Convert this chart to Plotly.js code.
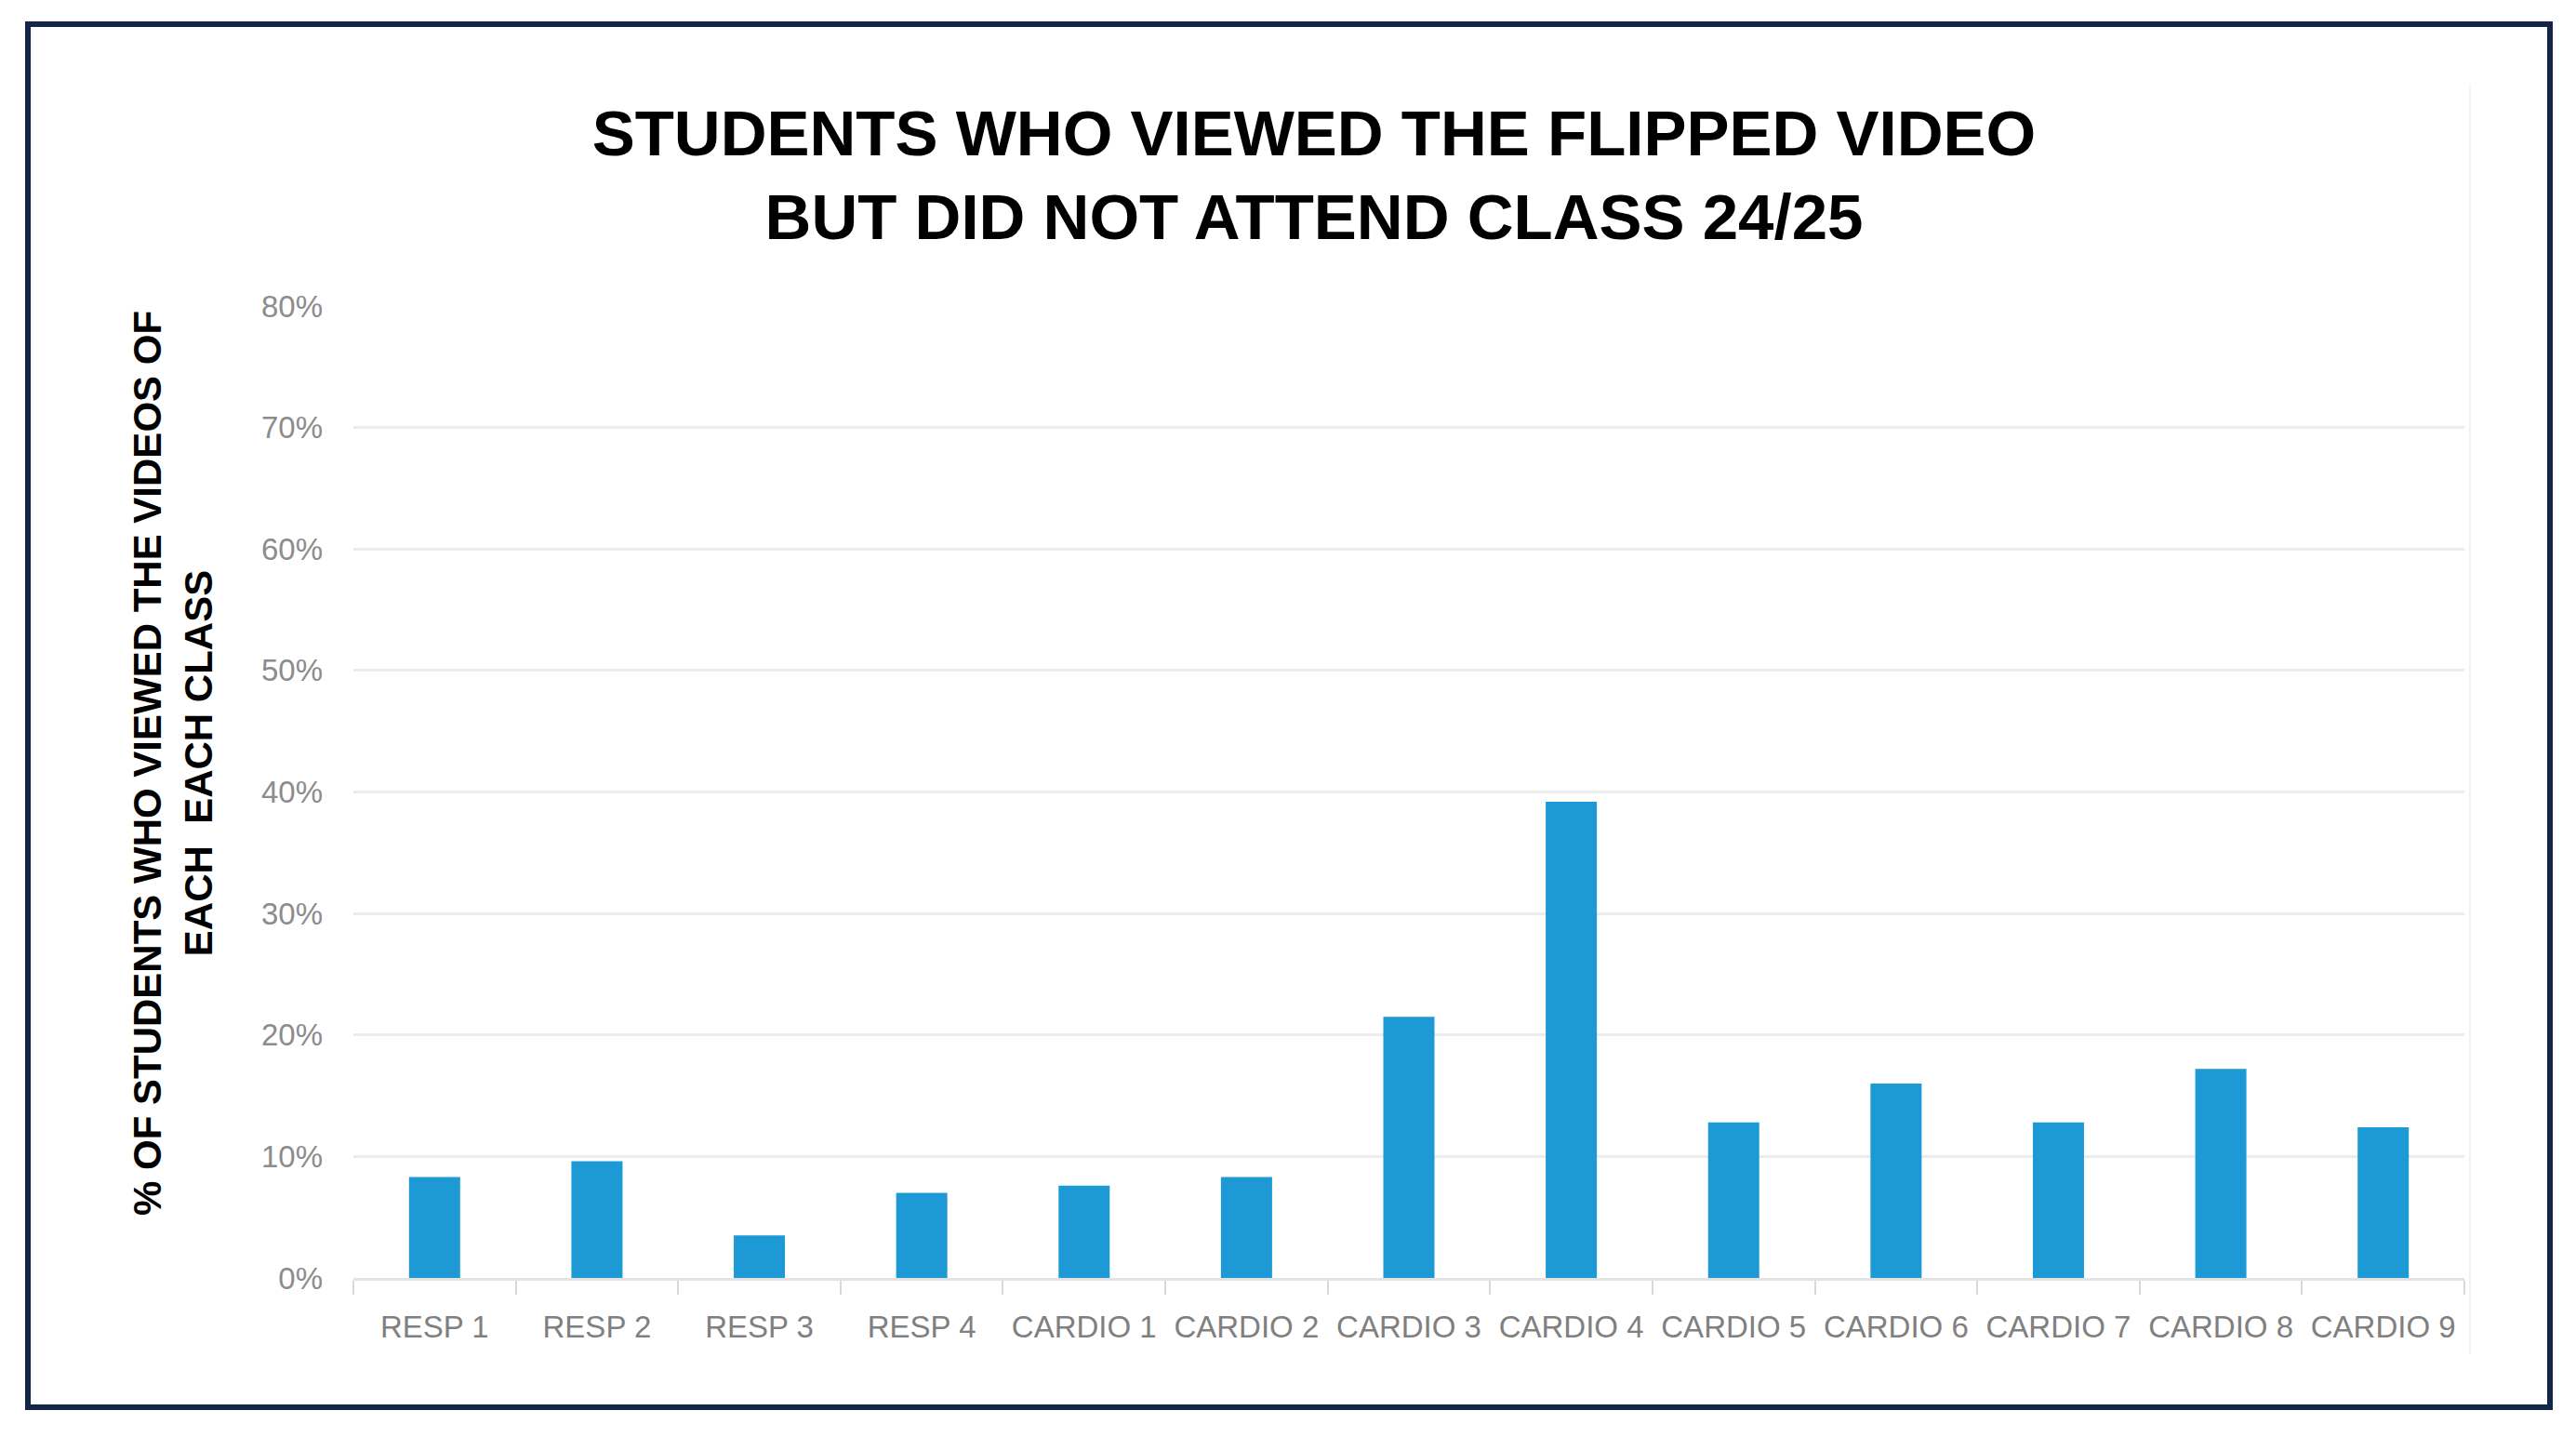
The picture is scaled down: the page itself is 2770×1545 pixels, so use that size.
<!DOCTYPE html>
<html>
<head>
<meta charset="utf-8">
<script src="https://cdn.plot.ly/plotly-3.0.1.min.js"></script>
<style>
  html, body { margin: 0; padding: 0; background: #ffffff; }
  #chart { width: 2770px; height: 1545px; }
</style>
</head>
<body>
<div id="chart"></div>
<script>
// ---- data ----
const categories = ["RESP 1", "RESP 2", "RESP 3", "RESP 4", "CARDIO 1", "CARDIO 2", "CARDIO 3",
                    "CARDIO 4", "CARDIO 5", "CARDIO 6", "CARDIO 7", "CARDIO 8", "CARDIO 9"];
const percentViewed = [8.3, 9.6, 3.5, 7.0, 7.6, 8.3, 21.5, 39.2, 12.8, 16.0, 12.8, 17.2, 12.4];
const yTickValues = [0, 10, 20, 30, 40, 50, 60, 70, 80];
const yTickLabels = ["0%", "10%", "20%", "30%", "40%", "50%", "60%", "70%", "80%"];
const chartTitle = "STUDENTS WHO VIEWED THE FLIPPED VIDEO<br>BUT DID NOT ATTEND CLASS 24/25";
const yTitle = "% OF STUDENTS WHO VIEWED THE VIDEOS OF<br>EACH&nbsp; EACH CLASS";

const W = 2770, H = 1545;
const L = 380, R = 2650, T = 329, B = 1374;
const px = x => (x - L) / (R - L);
const py = y => (B - y) / (B - T);

const trace = {
  type: "bar",
  x: categories,
  y: percentViewed,
  marker: { color: "#1d9ad6" },
  hoverinfo: "x+y"
};

const layout = {
  width: W, height: H,
  paper_bgcolor: "#ffffff",
  plot_bgcolor: "#ffffff",
  margin: { l: L, r: W - R, t: T, b: H - B, pad: 0 },
  showlegend: false,
  bargap: 0.685,
  title: {
    text: chartTitle,
    font: { family: "Liberation Sans, Arial, sans-serif", size: 69, color: "#000000", weight: "bold" },
    xref: "container", yref: "container",
    x: 1413 / W, xanchor: "center",
    y: 1 - 167 / H, yanchor: "top"
  },
  xaxis: {
    type: "category",
    tickson: "boundaries",
    ticks: "outside",
    ticklen: 15,
    tickwidth: 2,
    tickcolor: "#d9d9d9",
    showline: true,
    linecolor: "#e3e3e3",
    linewidth: 3,
    showgrid: false,
    ticklabelstandoff: 21,
    tickfont: { family: "Liberation Sans, Arial, sans-serif", size: 33, color: "#808080" },
    fixedrange: true
  },
  yaxis: {
    range: [0, 80],
    tickmode: "array",
    tickvals: yTickValues,
    ticktext: yTickLabels,
    showgrid: true,
    gridcolor: "#ececec",
    gridwidth: 3,
    zeroline: false,
    showline: false,
    ticks: "",
    ticklabelstandoff: 32,
    tickfont: { family: "Liberation Sans, Arial, sans-serif", size: 33, color: "#8c8c8c" },
    fixedrange: true
  },
  annotations: [{
    text: yTitle,
    xref: "paper", yref: "paper",
    x: px(186), y: py(821),
    xanchor: "center", yanchor: "middle",
    textangle: -90,
    showarrow: false,
    font: { family: "Liberation Sans, Arial, sans-serif", size: 42, color: "#000000", weight: "bold" }
  }],
  shapes: [
    {
      type: "rect", xref: "paper", yref: "paper",
      x0: px(30), x1: px(2742), y0: py(26), y1: py(1513),
      line: { color: "#14254a", width: 6 },
      fillcolor: "rgba(0,0,0,0)",
      layer: "above"
    },
    {
      type: "line", xref: "paper", yref: "paper",
      x0: px(2656), x1: px(2656), y0: py(90), y1: py(1455),
      line: { color: "#f3f3f3", width: 2 }
    }
  ]
};

Plotly.newPlot("chart", [trace], layout, { staticPlot: true, displayModeBar: false });
</script>
</body>
</html>
